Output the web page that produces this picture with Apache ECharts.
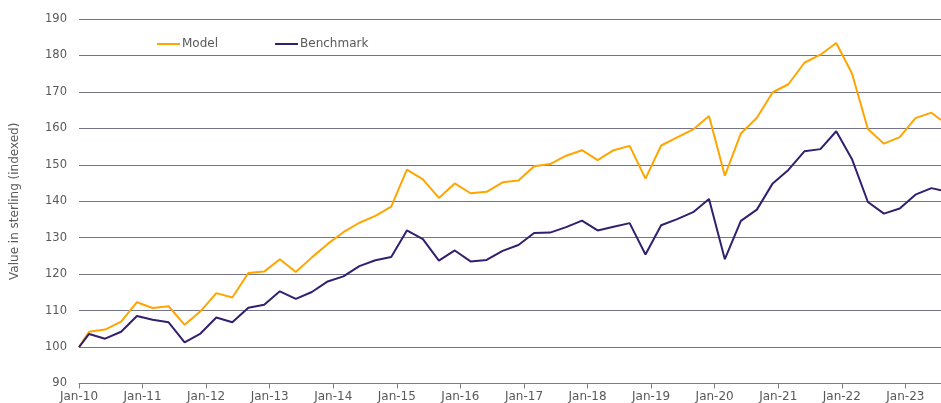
<!DOCTYPE html>
<html>
<head>
<meta charset="utf-8">
<script src="https://cdn.jsdelivr.net/npm/echarts@6/dist/echarts.min.js"></script>
<style>
html,body{margin:0;padding:0;background:#fff;}
#chart{width:941px;height:403px;}
</style>
</head>
<body>
<div id="chart"></div>
<script>
// Observation dates (quarter-ends, plus first/last observations)
const dates = [
  '2010-01-01','2010-02-28','2010-05-31','2010-08-31','2010-11-30',
  '2011-02-28','2011-05-31','2011-08-31','2011-11-30',
  '2012-02-29','2012-05-31','2012-08-31','2012-11-30',
  '2013-02-28','2013-05-31','2013-08-31','2013-11-30',
  '2014-02-28','2014-05-31','2014-08-31','2014-11-30',
  '2015-02-28','2015-05-31','2015-08-31','2015-11-30',
  '2016-02-29','2016-05-31','2016-08-31','2016-11-30',
  '2017-02-28','2017-05-31','2017-08-31','2017-11-30',
  '2018-02-28','2018-05-31','2018-08-31','2018-11-30',
  '2019-02-28','2019-05-31','2019-08-31','2019-11-30',
  '2020-02-29','2020-05-31','2020-08-31','2020-11-30',
  '2021-02-28','2021-05-31','2021-08-31','2021-11-30',
  '2022-02-28','2022-05-31','2022-08-31','2022-11-30',
  '2023-02-28','2023-05-31','2023-07-25'
];
const modelValues = [
  100, 104.2, 104.8, 107.0, 112.3,
  110.7, 111.2, 106.1, 109.8,
  114.8, 113.6, 120.3, 120.7,
  124.1, 120.6, 124.6, 128.3,
  131.5, 134.1, 136.0, 138.5,
  148.7, 146.0, 140.9, 144.9,
  142.2, 142.6, 145.2, 145.7,
  149.6, 150.2, 152.5, 154.0,
  151.3, 154.0, 155.2, 146.2,
  155.3, 157.5, 159.7, 163.4,
  147.0, 158.6, 162.9, 169.9,
  172.1, 178.0, 180.2, 183.4,
  175.1, 159.8, 155.8, 157.6,
  162.8, 164.3, 162.3
];
const benchmarkValues = [
  100, 103.6, 102.3, 104.2, 108.5,
  107.5, 106.8, 101.3, 103.7,
  108.1, 106.8, 110.8, 111.6,
  115.3, 113.2, 115.1, 118.0,
  119.4, 122.2, 123.8, 124.7,
  132.0, 129.6, 123.7, 126.5,
  123.5, 123.9, 126.4, 128.0,
  131.3, 131.4, 132.9, 134.7,
  132.0, 133.0, 134.0, 125.4,
  133.4, 135.1, 137.0, 140.6,
  124.1, 134.6, 137.7, 144.9,
  148.6, 153.7, 154.3, 159.2,
  151.6, 139.8, 136.6, 138.0,
  141.8, 143.6, 143.0
];
const seriesNames = ['Model', 'Benchmark'];
const yTicks = {min: 90, max: 190, step: 10};
const xStart = '2010-01-01';
const monthNames = ['Jan','Feb','Mar','Apr','May','Jun','Jul','Aug','Sep','Oct','Nov','Dec'];

const toTs = s => Date.parse(s + 'T00:00:00Z');
const YEAR = 365.25 * 24 * 3600 * 1000;
const modelData = dates.map((d, i) => [toTs(d), modelValues[i]]);
const benchData = dates.map((d, i) => [toTs(d), benchmarkValues[i]]);

const FONT = '"DejaVu Sans", Verdana, sans-serif';
const GREY = '#595959';
const ORANGE = '#FFA500';
const PURPLE = '#32206E';

const chart = echarts.init(document.getElementById('chart'), null, {renderer: 'canvas'});
chart.setOption({
  animation: false,
  backgroundColor: '#ffffff',
  grid: {left: 79, right: 0, top: 19, bottom: 19.5, containLabel: false, outerBoundsMode: 'none'},
  legend: {
    data: seriesNames,
    left: 157, top: 38, padding: 0,
    icon: 'rect',
    itemWidth: 23, itemHeight: 2, itemGap: 57,
    textStyle: {fontFamily: FONT, fontSize: 12, color: GREY, padding: [0,0,0,-3]}
  },
  xAxis: {
    type: 'value',
    min: toTs(xStart),
    max: toTs(dates[dates.length - 1]),
    interval: YEAR,
    splitLine: {show: false},
    axisLine: {show: true, lineStyle: {color: '#7f7f7f', width: 1}},
    axisTick: {show: true, length: 5, lineStyle: {color: '#7f7f7f'}},
    axisLabel: {
      showMaxLabel: false,
      fontFamily: FONT, fontSize: 12, color: GREY, margin: 7,
      formatter: v => {
        const d = new Date(v + 12 * 3600 * 1000);
        return monthNames[d.getUTCMonth()] + '-' + String(d.getUTCFullYear()).slice(2);
      }
    }
  },
  yAxis: {
    type: 'value',
    min: yTicks.min, max: yTicks.max, interval: yTicks.step,
    name: 'Value in sterling (indexed)',
    nameLocation: 'middle', nameGap: 58, nameRotate: 90,
    nameTextStyle: {fontFamily: FONT, fontSize: 12, color: GREY},
    axisLine: {show: false},
    axisTick: {show: false},
    axisLabel: {fontFamily: FONT, fontSize: 11.5, color: GREY, margin: 12},
    splitLine: {show: true, lineStyle: {color: '#747488', width: 1}}
  },
  series: [
    {
      name: seriesNames[0], type: 'line', data: modelData,
      symbol: 'none', showSymbol: false,
      lineStyle: {color: ORANGE, width: 2}, itemStyle: {color: ORANGE}
    },
    {
      name: seriesNames[1], type: 'line', data: benchData,
      symbol: 'none', showSymbol: false,
      lineStyle: {color: PURPLE, width: 2}, itemStyle: {color: PURPLE}
    }
  ]
});
</script>
</body>
</html>
